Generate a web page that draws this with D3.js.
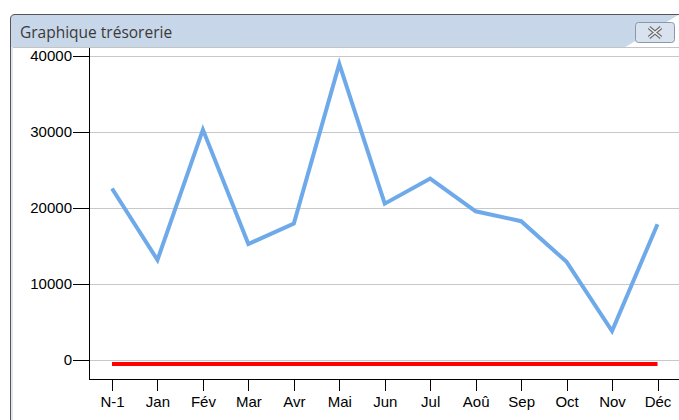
<!DOCTYPE html>
<html>
  <head>
    <meta http-equiv="Content-Type" content="text/html;charset=utf-8">
    <title>Graphique trésorerie</title>
    <script src="https://d3js.org/d3.v7.min.js"></script>
    <style>
      html, body {
        margin: 0;
        padding: 0;
        background: #fff;
        overflow: hidden;
      }
      .axis text {
        font-family: "Liberation Sans", Arial, sans-serif;
        font-size: 15px;
        fill: #000;
      }
      .axis path, .axis line {
        stroke: #000;
        stroke-width: 1px;
        shape-rendering: crispEdges;
      }
    </style>
  </head>
  <body>
  <script type="text/javascript">

// months on the x axis
var mois = ["N-1", "Jan", "Fév", "Mar", "Avr", "Mai", "Jun", "Jul", "Aoû", "Sep", "Oct", "Nov", "Déc"];
// cash balance (blue)
var tresorerie = [22500, 13100, 30250, 15200, 17900, 38900, 20500, 23800, 19500, 18200, 12850, 3750, 17800];
// second series (red), flat just under zero
var seuil = [-600, -600, -600, -600, -600, -600, -600, -600, -600, -600, -600, -600, -600];
var yTicks = [0, 10000, 20000, 30000, 40000];

var W = 679, H = 420;
var svg = d3.select("body").append("svg")
  .attr("width", W)
  .attr("height", H);

// window frame
var defs = svg.append("defs");
var grad = defs.append("linearGradient").attr("id", "tb")
  .attr("x1", 0).attr("y1", 0).attr("x2", 0).attr("y2", 1);
grad.append("stop").attr("offset", "0%").attr("stop-color", "#c7d6e8");
grad.append("stop").attr("offset", "100%").attr("stop-color", "#dde8f4");

svg.append("path")
  .attr("d", "M10.5,420 L10.5,19 Q10.5,14.5 15,14.5 L679,14.5")
  .attr("fill", "url(#tb)")
  .attr("stroke", "#555")
  .attr("stroke-width", 1);
svg.append("rect")
  .attr("x", 11).attr("y", 47).attr("width", W - 11).attr("height", H - 47)
  .attr("fill", "#dde8f4");
svg.append("rect")
  .attr("x", 13).attr("y", 48).attr("width", W - 13).attr("height", H - 48)
  .attr("fill", "#fff");
svg.append("line")
  .attr("x1", 13).attr("x2", W).attr("y1", 47.5).attr("y2", 47.5)
  .attr("stroke", "#c4c4c4");

svg.append("text")
  .attr("x", 20).attr("y", 38)
  .attr("font-family", "'Open Sans', 'Noto Sans', sans-serif")
  .attr("font-size", 15.5)
  .attr("fill", "#3a3a3a")
  .text("Graphique trésorerie");

// close button
svg.append("rect")
  .attr("x", 635.5).attr("y", 22.5).attr("width", 39).attr("height", 20).attr("rx", 3)
  .attr("fill", "#d9e3ef").attr("stroke", "#8a97a8");
svg.append("path")
  .attr("d", "M649,27.5 L661,37.5 M661,27.5 L649,37.5")
  .attr("stroke", "#6b6b6b").attr("stroke-width", 3.6).attr("fill", "none");
svg.append("path")
  .attr("d", "M649,27.5 L661,37.5 M661,27.5 L649,37.5")
  .attr("stroke", "#f4f4f4").attr("stroke-width", 1.4).attr("fill", "none");

// chart area
var x = d3.scalePoint().domain(mois).range([112, 657.5]);
var y = d3.scaleLinear().domain([0, 40000]).range([359.5, 55.5]);
var left = 89, bottom = 379;

var plot = svg.append("g");

plot.selectAll(".grid").data(yTicks).enter().append("line")
  .attr("x1", left).attr("x2", W)
  .attr("y1", function(d) { return Math.round(y(d)) + 0.5; })
  .attr("y2", function(d) { return Math.round(y(d)) + 0.5; })
  .attr("stroke", "#c8c8c8");

var yAxis = plot.append("g").attr("class", "axis")
  .attr("transform", "translate(" + left + ",0)")
  .call(d3.axisLeft(y).tickValues(yTicks).tickSize(16).tickPadding(1).tickFormat(d3.format("d")));
yAxis.select(".domain").attr("d", "M0.5,48V" + (bottom + 0.5));
yAxis.selectAll("line").attr("x1", -16).attr("x2", 0.5);

var xAxis = plot.append("g").attr("class", "axis")
  .attr("transform", "translate(0," + bottom + ")")
  .call(d3.axisBottom(x).tickSize(12).tickPadding(5));
xAxis.select(".domain").attr("d", "M" + left + ",0.5H" + W);

var line = d3.line()
  .x(function(d, i) { return x(mois[i]); })
  .y(function(d) { return y(d); });

plot.append("path")
  .attr("d", line(seuil))
  .attr("fill", "none")
  .attr("stroke", "#ff0000")
  .attr("stroke-width", 4);

plot.append("path")
  .attr("d", line(tresorerie))
  .attr("fill", "none")
  .attr("stroke", "#6eaaea")
  .attr("stroke-width", 4)
  .attr("stroke-linejoin", "miter");

  </script>
  </body>
</html>
